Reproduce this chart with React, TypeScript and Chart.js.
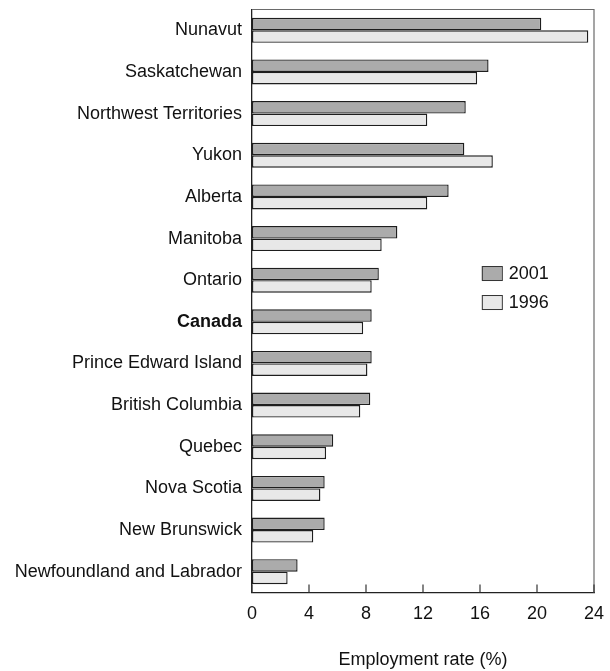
import React, { useEffect, useRef } from "react";
import { Chart, registerables } from "chart.js";

Chart.register(...registerables);

const provinces = [
  "Nunavut",
  "Saskatchewan",
  "Northwest Territories",
  "Yukon",
  "Alberta",
  "Manitoba",
  "Ontario",
  "Canada",
  "Prince Edward Island",
  "British Columbia",
  "Quebec",
  "Nova Scotia",
  "New Brunswick",
  "Newfoundland and Labrador",
];

const rate2001 = [20.3, 16.6, 15.0, 14.9, 13.8, 10.2, 8.9, 8.4, 8.4, 8.3, 5.7, 5.1, 5.1, 3.2];
const rate1996 = [23.6, 15.8, 12.3, 16.9, 12.3, 9.1, 8.4, 7.8, 8.1, 7.6, 5.2, 4.8, 4.3, 2.5];

const seriesLabels = ["2001", "1996"];
const xTicks = [0, 4, 8, 12, 16, 20, 24];
const axisTitle = "Employment rate (%)";

const FONT = "'Liberation Sans', Arial, sans-serif";
const FS = 18;

const framePlugin = {
  id: "frame",
  afterDatasetsDraw(chart: any) {
    const { ctx, chartArea } = chart;
    const { left, right, top, bottom } = chartArea;
    const xs = chart.scales.x;
    ctx.save();
    ctx.strokeStyle = "#6a6a6a";
    ctx.lineWidth = 1.2;
    ctx.beginPath();
    ctx.moveTo(left, top);
    ctx.lineTo(right, top);
    ctx.lineTo(right, bottom);
    ctx.stroke();
    ctx.strokeStyle = "#333";
    ctx.lineWidth = 1.2;
    xTicks.forEach((v) => {
      const px = xs.getPixelForValue(v);
      ctx.beginPath();
      ctx.moveTo(px, bottom);
      ctx.lineTo(px, bottom - 8);
      ctx.stroke();
    });
    const ds = chart.data.datasets;
    const lx = left + (right - left) * 0.672;
    const ly0 = top + (bottom - top) * 0.452;
    ds.forEach((d: any, i: number) => {
      const y = ly0 + i * 29;
      ctx.fillStyle = d.backgroundColor;
      ctx.fillRect(lx, y - 7, 20, 14);
      ctx.strokeStyle = "#333";
      ctx.lineWidth = 1;
      ctx.strokeRect(lx + 0.5, y - 6.5, 20, 14);
      ctx.fillStyle = "#111";
      ctx.font = `${FS}px ${FONT}`;
      ctx.textBaseline = "middle";
      ctx.textAlign = "left";
      ctx.fillText(d.label, lx + 27, y + 1);
    });
    ctx.restore();
  },
};

export default function App() {
  const ref = useRef<HTMLCanvasElement>(null);
  useEffect(() => {
    if (!ref.current) return;
    const chart = new Chart(ref.current, {
      type: "bar",
      data: {
        labels: provinces,
        datasets: [
          {
            label: seriesLabels[0],
            data: rate2001,
            backgroundColor: "#ababab",
            borderColor: "#1e1e1e",
            borderWidth: 1.4,
            borderSkipped: false,
            categoryPercentage: 0.6,
            barPercentage: 1.0,
          },
          {
            label: seriesLabels[1],
            data: rate1996,
            backgroundColor: "#e8e8e8",
            borderColor: "#1e1e1e",
            borderWidth: 1.4,
            borderSkipped: false,
            categoryPercentage: 0.6,
            barPercentage: 1.0,
          },
        ],
      },
      options: {
        indexAxis: "y",
        animation: false,
        responsive: false,
        devicePixelRatio: 1,
        layout: { padding: { left: 0, right: 16, top: 9.5, bottom: 0 } },
        plugins: {
          legend: { display: false },
          tooltip: { enabled: false },
        },
        scales: {
          x: {
            type: "linear",
            min: 0,
            max: 24,
            afterBuildTicks: (scale: any) => {
              scale.ticks = xTicks.map((v) => ({ value: v }));
            },
            afterFit: (scale: any) => {
              scale.height = 78.5;
              scale.paddingLeft = 0;
              scale.paddingRight = 0;
              scale.paddingTop = 0;
              scale.paddingBottom = 0;
            },
            grid: { display: false, drawTicks: false },
            border: { display: true, color: "#222", width: 1.3 },
            ticks: {
              padding: 11,
              color: "#111",
              font: { family: FONT, size: FS },
              maxRotation: 0,
            },
            title: {
              display: true,
              text: axisTitle,
              color: "#111",
              font: { family: FONT, size: FS },
              padding: { top: 0, bottom: 0 },
            },
          },
          y: {
            type: "category",
            afterFit: (scale: any) => {
              scale.width = 252;
              scale.paddingLeft = 0;
              scale.paddingRight = 0;
              scale.paddingTop = 0;
              scale.paddingBottom = 0;
            },
            grid: { display: false, drawTicks: false },
            border: { display: true, color: "#222", width: 1.3 },
            ticks: {
              padding: 10,
              color: "#111",
              autoSkip: false,
              font: (c: any) => ({
                family: FONT,
                size: FS,
                weight: c.tick && c.tick.label === "Canada" ? "bold" : "normal",
              }),
            },
          },
        },
      },
      plugins: [framePlugin],
    });
    return () => chart.destroy();
  }, []);
  return (
    <div style={{ position: "absolute", left: 0, top: 0, width: 610, height: 671, background: "#fff" }}>
      <canvas ref={ref} width={610} height={671} />
    </div>
  );
}
